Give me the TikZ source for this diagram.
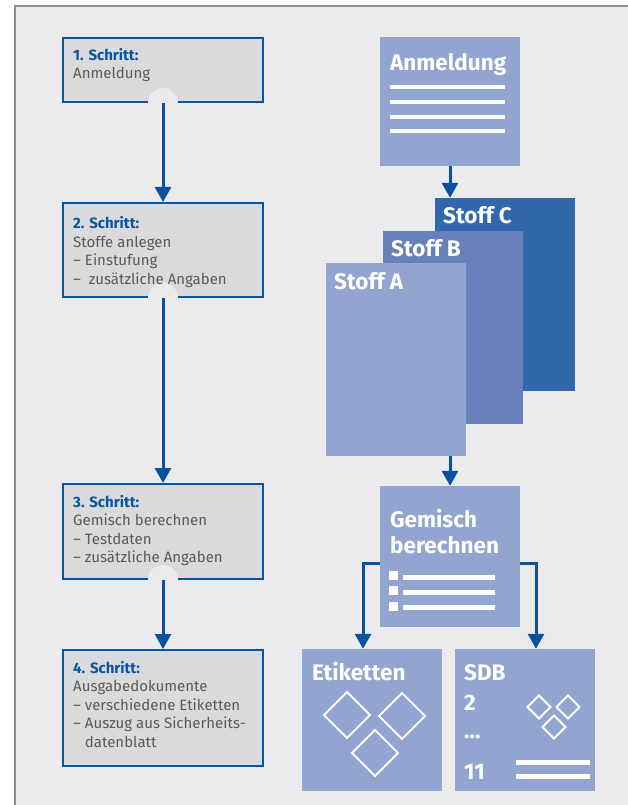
\documentclass[tikz,border=0pt]{standalone}
\usepackage{fontspec}
\setmainfont{Fira Sans}
\usetikzlibrary{arrows.meta}
\definecolor{bg}{HTML}{EBEBED}
\definecolor{framegray}{HTML}{8C8C8C}
\definecolor{stepfill}{HTML}{D9DADC}
\definecolor{stepblue}{HTML}{0A55A0}
\definecolor{textgray}{HTML}{58595B}
\definecolor{arrowblue}{HTML}{0A52A0}
\definecolor{lightb}{HTML}{91A5D0}
\definecolor{midb}{HTML}{6780BA}
\definecolor{darkb}{HTML}{3167AB}
\tikzset{
  stepbox/.style={draw=stepblue, line width=2pt, fill=stepfill, minimum width=200pt, inner sep=0pt},
  steptext/.style={anchor=north west, inner sep=0pt, align=left, text=textgray, font=\fontsize{15}{18.5}\selectfont},
  arr/.style={draw=arrowblue, line width=3pt, -{Triangle[width=16pt,length=15pt]}},
  doc/.style={minimum width=140pt, inner sep=0pt},
  doclabel/.style={anchor=base west, text=white, inner sep=0pt, font=\bfseries\fontsize{22.5}{26}\selectfont},
  wline/.style={draw=white, line width=4.5pt},
  dia/.style={draw=white, line width=2pt},
}
\newcommand{\stepno}[1]{\textcolor{stepblue}{\bfseries #1}}
\begin{document}
\begin{tikzpicture}[x=1pt,y=-1pt]
\useasboundingbox (0,0) rectangle (628,805);
\fill[white] (0,0) rectangle (628,805);
\fill[bg] (15,6) rectangle (628,805);
\draw[framegray, line width=2pt] (15,805) -- (15,6) -- (628,6);

% left column
\node[stepbox, minimum height=64pt] (s1) at (163,70) {};
\node[stepbox, minimum height=94pt] (s2) at (163,250) {};
\node[stepbox, minimum height=95pt] (s3) at (163,531.5) {};
\node[stepbox, minimum height=116pt] (s4) at (163,708) {};
\foreach \s in {s1,s2,s3} \fill[bg] (\s.south) circle[radius=15pt];

\node[steptext] (t1) at (73,48) {\stepno{1. Schritt:}\\Anmeldung};
\node[steptext] (t2) at (73,216.5) {\stepno{2. Schritt:}\\Stoffe anlegen\\– Einstufung\\–\ \ zusätzliche Angaben};
\node[steptext] (t3) at (73,495) {\stepno{3. Schritt:}\\Gemisch berechnen\\– Testdaten\\– zusätzliche Angaben};
\node[steptext] (t4) at (73,661) {\stepno{4. Schritt:}\\Ausgabedokumente\\– verschiedene Etiketten\\– Auszug aus Sicherheits-\\\hphantom{– }datenblatt};

\draw[arr] (s1.south) -- (s2.north);
\draw[arr] (s2.south) -- (s3.north);
\draw[arr] (s3.south) -- (s4.north);

% right column
\node[doc, fill=lightb, minimum height=129pt] (anm) at (450,101.5) {};
\node[doclabel] (anmT) at (390,71) {Anmeldung};
\foreach \y in {87,102,117,131} \draw[wline] (390,\y) -- (505,\y);

\node[doc, fill=darkb, minimum height=193pt] (sc) at (505,294.5) {};
\node[doc, fill=midb, minimum height=193pt] (sb) at (453,327.5) {};
\node[doc, fill=lightb, minimum height=193pt] (sa) at (396,359.5) {};
\node[doclabel] (scT) at (443,223) {Stoff C};
\node[doclabel] (sbT) at (391,256) {Stoff B};
\node[doclabel] (saT) at (334,289) {Stoff A};

\draw[arr] (anm.south) -- (anm.south |- sc.north);

\node[doc, fill=lightb, minimum height=141pt] (gem) at (450,556.5) {};
\node[doclabel] (gemT1) at (390,527) {Gemisch};
\node[doclabel] (gemT2) at (390,553) {berechnen};
\foreach \y in {571,586,602} \fill[white] (389,\y) rectangle (398,\y+9);
\foreach \y in {577,592,607} \draw[draw=white, line width=5pt] (403,\y) -- (495,\y);

\draw[arr] (gem.north |- sa.south) -- (gem.north);

\node[doc, fill=lightb, minimum height=142pt] (eti) at (372,720) {};
\node[doc, fill=lightb, minimum height=142pt] (sdb) at (525,720) {};
\node[doclabel] (etiT) at (312,680) {Etiketten};
\node[doclabel] (sdbT) at (464,680) {SDB};
\node[doclabel] (sdb2) at (464,710) {2};
\node[doclabel] (sdbD) at (464,738) {...};
\node[doclabel] (sdb11) at (464,779) {11};

\foreach \x/\y in {347/715,402/716,375/753}
  \draw[dia] (\x,\y-23) -- (\x+23,\y) -- (\x,\y+23) -- (\x-23,\y) -- cycle;
\foreach \x/\y in {539/707,568/707,554/727}
  \draw[dia] (\x,\y-11.5) -- (\x+11.5,\y) -- (\x,\y+11.5) -- (\x-11.5,\y) -- cycle;
\foreach \y in {762,776} \draw[draw=white, line width=5pt] (516,\y) -- (590,\y);

\draw[arr] ([yshift=-6.5pt]gem.west) -| ([xshift=-9pt]eti.north);
\draw[arr] ([yshift=-6.5pt]gem.east) -| ([xshift=11pt]sdb.north);
\end{tikzpicture}
\end{document}
